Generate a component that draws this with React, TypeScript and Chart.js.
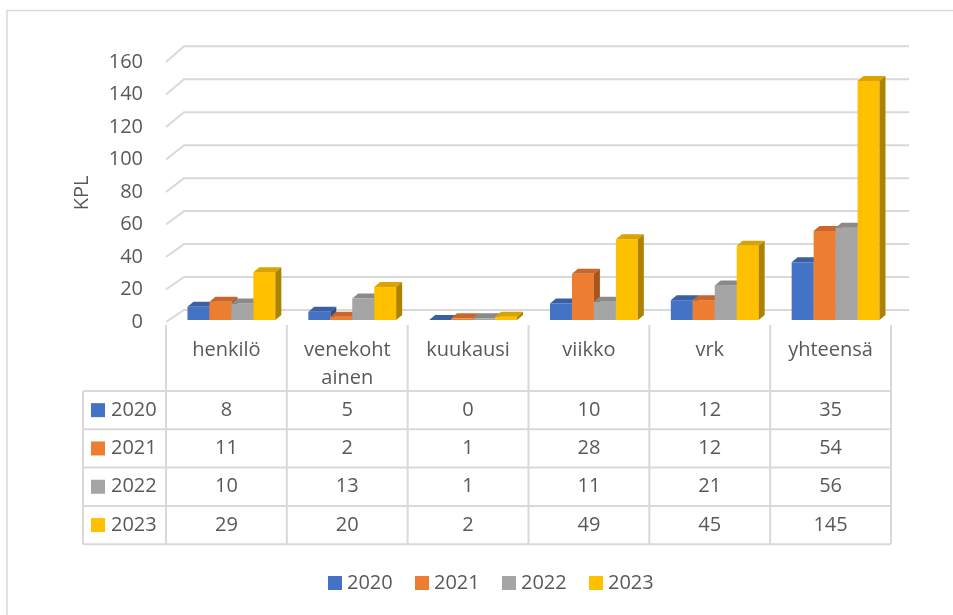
import React, { useEffect, useRef } from 'react';
import { Chart, registerables } from 'chart.js';

Chart.register(...registerables);

const categories = ['henkilö', 'venekoht\nainen', 'kuukausi', 'viikko', 'vrk', 'yhteensä'];
const seriesNames = ['2020', '2021', '2022', '2023'];
const values2020 = [8, 5, 0, 10, 12, 35];
const values2021 = [11, 2, 1, 28, 12, 54];
const values2022 = [10, 13, 1, 11, 21, 56];
const values2023 = [29, 20, 2, 49, 45, 145];
const yTicks = [0, 20, 40, 60, 80, 100, 120, 140, 160];
const yTitle = 'KPL';

const frontColors = ['#4472C4', '#ED7D31', '#A5A5A5', '#FFC000'];
const topColors = ['#3A5FA3', '#C9672A', '#8A8A8A', '#D9A300'];
const sideColors = ['#2F4F8A', '#A9541F', '#747474', '#AD8200'];

const FONT = '20px "Open Sans", Lato, sans-serif';
const TEXT = '#595959';
const LINE = '#d9d9d9';

const seriesData = [values2020, values2021, values2022, values2023];

const drawPlugin = {
  id: 'excel3d',
  afterDraw(chart: any) {
    const ctx = chart.ctx as CanvasRenderingContext2D;
    const area = chart.chartArea;
    const ys = chart.scales.y;
    const xs = chart.scales.x;
    ctx.save();

    // outer border
    ctx.strokeStyle = LINE;
    ctx.lineWidth = 1.5;
    ctx.strokeRect(7, 10.5, 980, 640);

    // gridlines (3D walls)
    const backX0 = area.left + 18;
    const backX1 = area.right + 18;
    ctx.strokeStyle = LINE;
    ctx.lineWidth = 2;
    yTicks.forEach((v) => {
      const yb = ys.getPixelForValue(v);
      const front = yb + 2 + v * 0.023;
      const back = yb - 10;
      ctx.beginPath();
      ctx.moveTo(area.left, front);
      ctx.lineTo(backX0, back);
      ctx.lineTo(backX1, back);
      ctx.stroke();
    });

    // y tick labels
    ctx.fillStyle = TEXT;
    ctx.font = FONT;
    ctx.textAlign = 'right';
    ctx.textBaseline = 'middle';
    yTicks.forEach((v) => {
      const yb = ys.getPixelForValue(v);
      const front = yb + 2 + v * 0.023;
      ctx.fillText(String(v), 143, front);
    });

    // y title
    ctx.save();
    ctx.translate(82, 193);
    ctx.rotate(-Math.PI / 2);
    ctx.textAlign = 'center';
    ctx.fillText(yTitle, 0, 0);
    ctx.restore();

    // bars
    const dx = 6;
    const dy = 5;
    const shift = 5;
    for (let j = 0; j < categories.length; j++) {
      for (let i = 0; i < seriesData.length; i++) {
        const el = chart.getDatasetMeta(i).data[j];
        const l = el.x - el.width / 2 + shift;
        const r = el.x + el.width / 2 + shift;
        const t = el.y;
        const b = el.base;
        ctx.fillStyle = frontColors[i];
        ctx.fillRect(l, t, r - l, b - t);
        ctx.fillStyle = topColors[i];
        ctx.beginPath();
        ctx.moveTo(l, t);
        ctx.lineTo(r, t);
        ctx.lineTo(r + dx, t - dy);
        ctx.lineTo(l + dx, t - dy);
        ctx.closePath();
        ctx.fill();
        ctx.fillStyle = sideColors[i];
        ctx.beginPath();
        ctx.moveTo(r, t);
        ctx.lineTo(r + dx, t - dy);
        ctx.lineTo(r + dx, b - dy);
        ctx.lineTo(r, b);
        ctx.closePath();
        ctx.fill();
      }
    }

    // data table
    const colW = (area.right - area.left) / categories.length;
    const tableTop = 325;
    const headerBottom = 391;
    const rowH = 38.3;
    const tableBottom = headerBottom + rowH * seriesData.length;
    const rowHeaderLeft = 83;
    ctx.strokeStyle = LINE;
    ctx.lineWidth = 2;
    for (let j = 0; j <= categories.length; j++) {
      const x = area.left + j * colW;
      ctx.beginPath();
      ctx.moveTo(x, tableTop);
      ctx.lineTo(x, tableBottom);
      ctx.stroke();
    }
    ctx.beginPath();
    ctx.moveTo(rowHeaderLeft, headerBottom);
    ctx.lineTo(rowHeaderLeft, tableBottom);
    ctx.stroke();
    for (let k = 0; k <= seriesData.length; k++) {
      const y = headerBottom + k * rowH;
      ctx.beginPath();
      ctx.moveTo(rowHeaderLeft, y);
      ctx.lineTo(area.right, y);
      ctx.stroke();
    }

    ctx.fillStyle = TEXT;
    ctx.font = FONT;
    ctx.textAlign = 'center';
    ctx.textBaseline = 'middle';
    categories.forEach((c, j) => {
      const cx = xs.getPixelForValue(j);
      c.split('\n').forEach((line, li) => {
        ctx.fillText(line, cx, 350 + li * 28);
      });
    });
    seriesData.forEach((arr, i) => {
      const cy = headerBottom + rowH * i + rowH / 2;
      arr.forEach((v, j) => {
        ctx.fillStyle = TEXT;
        ctx.textAlign = 'center';
        ctx.fillText(String(v), xs.getPixelForValue(j), cy);
      });
      ctx.fillStyle = frontColors[i];
      ctx.fillRect(91, cy - 7, 14, 14);
      ctx.fillStyle = TEXT;
      ctx.textAlign = 'left';
      ctx.fillText(seriesNames[i], 111, cy);
    });

    // legend
    const legY = 583;
    seriesNames.forEach((name, i) => {
      const x = 328 + i * 87;
      ctx.fillStyle = frontColors[i];
      ctx.fillRect(x, legY - 7, 14, 14);
      ctx.fillStyle = TEXT;
      ctx.textAlign = 'left';
      ctx.fillText(name, x + 19, legY);
    });

    ctx.restore();
  },
};

export default function App() {
  const ref = useRef<HTMLCanvasElement | null>(null);
  useEffect(() => {
    document.body.style.margin = '0';
    const canvas = ref.current;
    if (!canvas) return;
    const chart = new Chart(canvas, {
      type: 'bar',
      data: {
        labels: categories,
        datasets: seriesNames.map((name, i) => ({
          label: name,
          data: seriesData[i],
          backgroundColor: 'rgba(0,0,0,0)',
          borderWidth: 0,
          categoryPercentage: 0.727,
          barPercentage: 1,
        })),
      },
      options: {
        responsive: false,
        animation: false,
        devicePixelRatio: 1,
        layout: { padding: { left: 166, top: 56.3, right: 62, bottom: 295 } },
        plugins: { legend: { display: false }, tooltip: { enabled: false }, title: { display: false } },
        scales: {
          x: { display: false, offset: true, grid: { display: false } },
          y: { display: false, min: 0, max: 160 },
        },
      },
      plugins: [drawPlugin],
    });
    return () => chart.destroy();
  }, []);
  return (
    <div style={{ width: 953, height: 615, background: '#fff' }}>
      <canvas ref={ref} width={953} height={615} style={{ display: 'block' }} />
    </div>
  );
}
